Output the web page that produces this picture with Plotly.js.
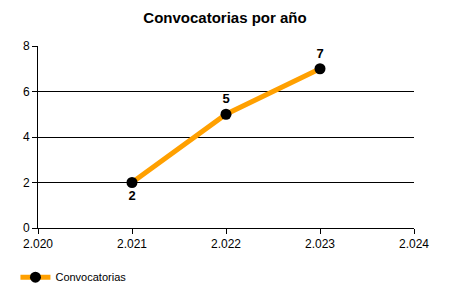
<!DOCTYPE html>
<html>
<head>
<meta charset="utf-8">
<script src="https://cdn.plot.ly/plotly-3.0.1.min.js"></script>
<style>html,body{margin:0;padding:0;background:#fff;}#chart{width:450px;height:300px;}</style>
</head>
<body>
<div id="chart"></div>
<script>
const years = [2021, 2022, 2023];
const convocatorias = [2, 5, 7];
const labelPositions = ['bottom center', 'top center', 'top center'];
const xTickVals = [2020, 2021, 2022, 2023, 2024];
const xTickText = ['2.020', '2.021', '2.022', '2.023', '2.024'];
const yTickVals = [0, 2, 4, 6, 8];

const trace = {
  x: years,
  y: convocatorias,
  type: 'scatter',
  mode: 'lines+markers+text',
  name: 'Convocatorias',
  line: {color: '#FFA000', width: 5},
  marker: {color: '#000000', size: 11},
  text: convocatorias.map(String),
  textposition: labelPositions,
  textfont: {family: 'Liberation Sans, Arial', size: 13, color: '#000000', weight: 'bold'},
  cliponaxis: false
};

const layout = {
  width: 450, height: 300,
  margin: {l: 38, r: 36, t: 46, b: 72, autoexpand: false},
  paper_bgcolor: '#ffffff', plot_bgcolor: '#ffffff',
  font: {family: 'Liberation Sans, Arial', size: 12, color: '#000000'},
  title: {text: '<b>Convocatorias por año</b>', x: 0.5, xanchor: 'center', y: 0.94, yanchor: 'middle',
          font: {family: 'Liberation Sans, Arial', size: 15, color: '#000000'}},
  xaxis: {
    range: [2020, 2024], tickvals: xTickVals, ticktext: xTickText,
    showgrid: false, zeroline: false, showline: true, linecolor: '#000000', linewidth: 1,
    ticks: 'outside', ticklen: 5, tickcolor: '#000000', tickfont: {size: 12, color: '#000000'}
  },
  yaxis: {
    range: [0, 8], tickvals: yTickVals,
    showgrid: true, gridcolor: '#000000', gridwidth: 1, zeroline: false,
    showline: true, linecolor: '#000000', linewidth: 1,
    ticks: 'outside', ticklen: 5, tickcolor: '#000000', tickfont: {size: 12, color: '#000000'}
  },
  showlegend: true,
  legend: {x: -0.06, xanchor: 'left', y: -0.27, yanchor: 'middle', orientation: 'h',
           font: {size: 11, color: '#000000'}, bgcolor: 'rgba(0,0,0,0)', itemwidth: 30}
};

Plotly.newPlot('chart', [trace], layout, {displayModeBar: false, staticPlot: true});
</script>
</body>
</html>
